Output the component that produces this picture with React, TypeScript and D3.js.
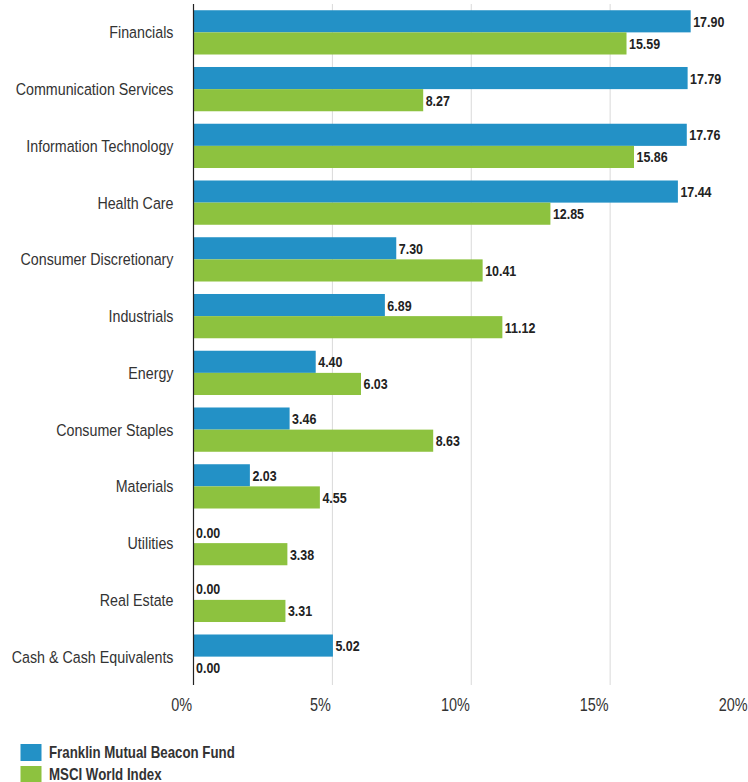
import React from "react";
import * as d3 from "d3";

const categories = [
  "Financials",
  "Communication Services",
  "Information Technology",
  "Health Care",
  "Consumer Discretionary",
  "Industrials",
  "Energy",
  "Consumer Staples",
  "Materials",
  "Utilities",
  "Real Estate",
  "Cash & Cash Equivalents",
];
const fundValues = [17.9, 17.79, 17.76, 17.44, 7.3, 6.89, 4.4, 3.46, 2.03, 0.0, 0.0, 5.02];
const indexValues = [15.59, 8.27, 15.86, 12.85, 10.41, 11.12, 6.03, 8.63, 4.55, 3.38, 3.31, 0.0];
const seriesNames = ["Franklin Mutual Beacon Fund", "MSCI World Index"];
const seriesColors = ["#2391c6", "#8dc23f"];
const xTicks = [0, 5, 10, 15, 20];

const W = 748;
const H = 782;
const FONT = "'Liberation Sans', Arial, sans-serif";
const SX = 0.82;

function NText(props: {
  x: number;
  y: number;
  anchor?: string;
  size: number;
  bold?: boolean;
  fill: string;
  children: React.ReactNode;
}) {
  return (
    <text
      transform={`translate(${props.x},${props.y}) scale(${SX},1)`}
      textAnchor={props.anchor || "start"}
      dominantBaseline="central"
      fontSize={props.size}
      fontWeight={props.bold ? "bold" : "normal"}
      fill={props.fill}
    >
      {props.children}
    </text>
  );
}

export default function App() {
  const x = d3.scaleLinear().domain([0, 20]).range([193.5, 749]);
  const y = d3
    .scaleBand<string>()
    .domain(categories)
    .range([4, 685])
    .paddingInner(0.22)
    .paddingOuter(0.11);
  const inner = d3.scaleBand<number>().domain([0, 1]).range([0, y.bandwidth()]);
  const series = [fundValues, indexValues];

  return (
    <svg
      width={W}
      height={H}
      style={{ position: "absolute", left: 0, top: 0, background: "#fff" }}
      fontFamily={FONT}
    >
      {xTicks
        .filter((t) => t !== 0)
        .map((t) => (
          <line key={"g" + t} x1={x(t)} x2={x(t)} y1={4} y2={685} stroke="#d9d9d9" strokeWidth={1} />
        ))}
      {categories.map((c, i) => (
        <g key={c}>
          <NText x={173.5} y={(y(c) as number) + y.bandwidth() / 2} anchor="end" size={17.4} fill="#333">
            {c}
          </NText>
          {series.map((vals, s) => {
            const v = vals[i];
            const by = (y(c) as number) + (inner(s) as number);
            return (
              <g key={s}>
                <rect x={x(0)} y={by} width={x(v) - x(0)} height={inner.bandwidth()} fill={seriesColors[s]} />
                <NText x={x(v) + 2.5} y={by + inner.bandwidth() / 2} size={15.2} bold fill="#222">
                  {v.toFixed(2)}
                </NText>
              </g>
            );
          })}
        </g>
      ))}
      <line x1={x(0)} x2={x(0)} y1={4} y2={685} stroke="#222" strokeWidth={1.2} />
      {xTicks.map((t) => (
        <NText key={"t" + t} x={x(t) - 1.5} y={704} anchor="end" size={17.6} fill="#333">
          {t + "%"}
        </NText>
      ))}
      {seriesNames.map((n, s) => (
        <g key={n}>
          <rect x={20.5} y={744 + s * 22} width={21} height={17} fill={seriesColors[s]} />
          <NText x={49} y={752.5 + s * 22} size={16.2} bold fill="#333">
            {n}
          </NText>
        </g>
      ))}
    </svg>
  );
}
